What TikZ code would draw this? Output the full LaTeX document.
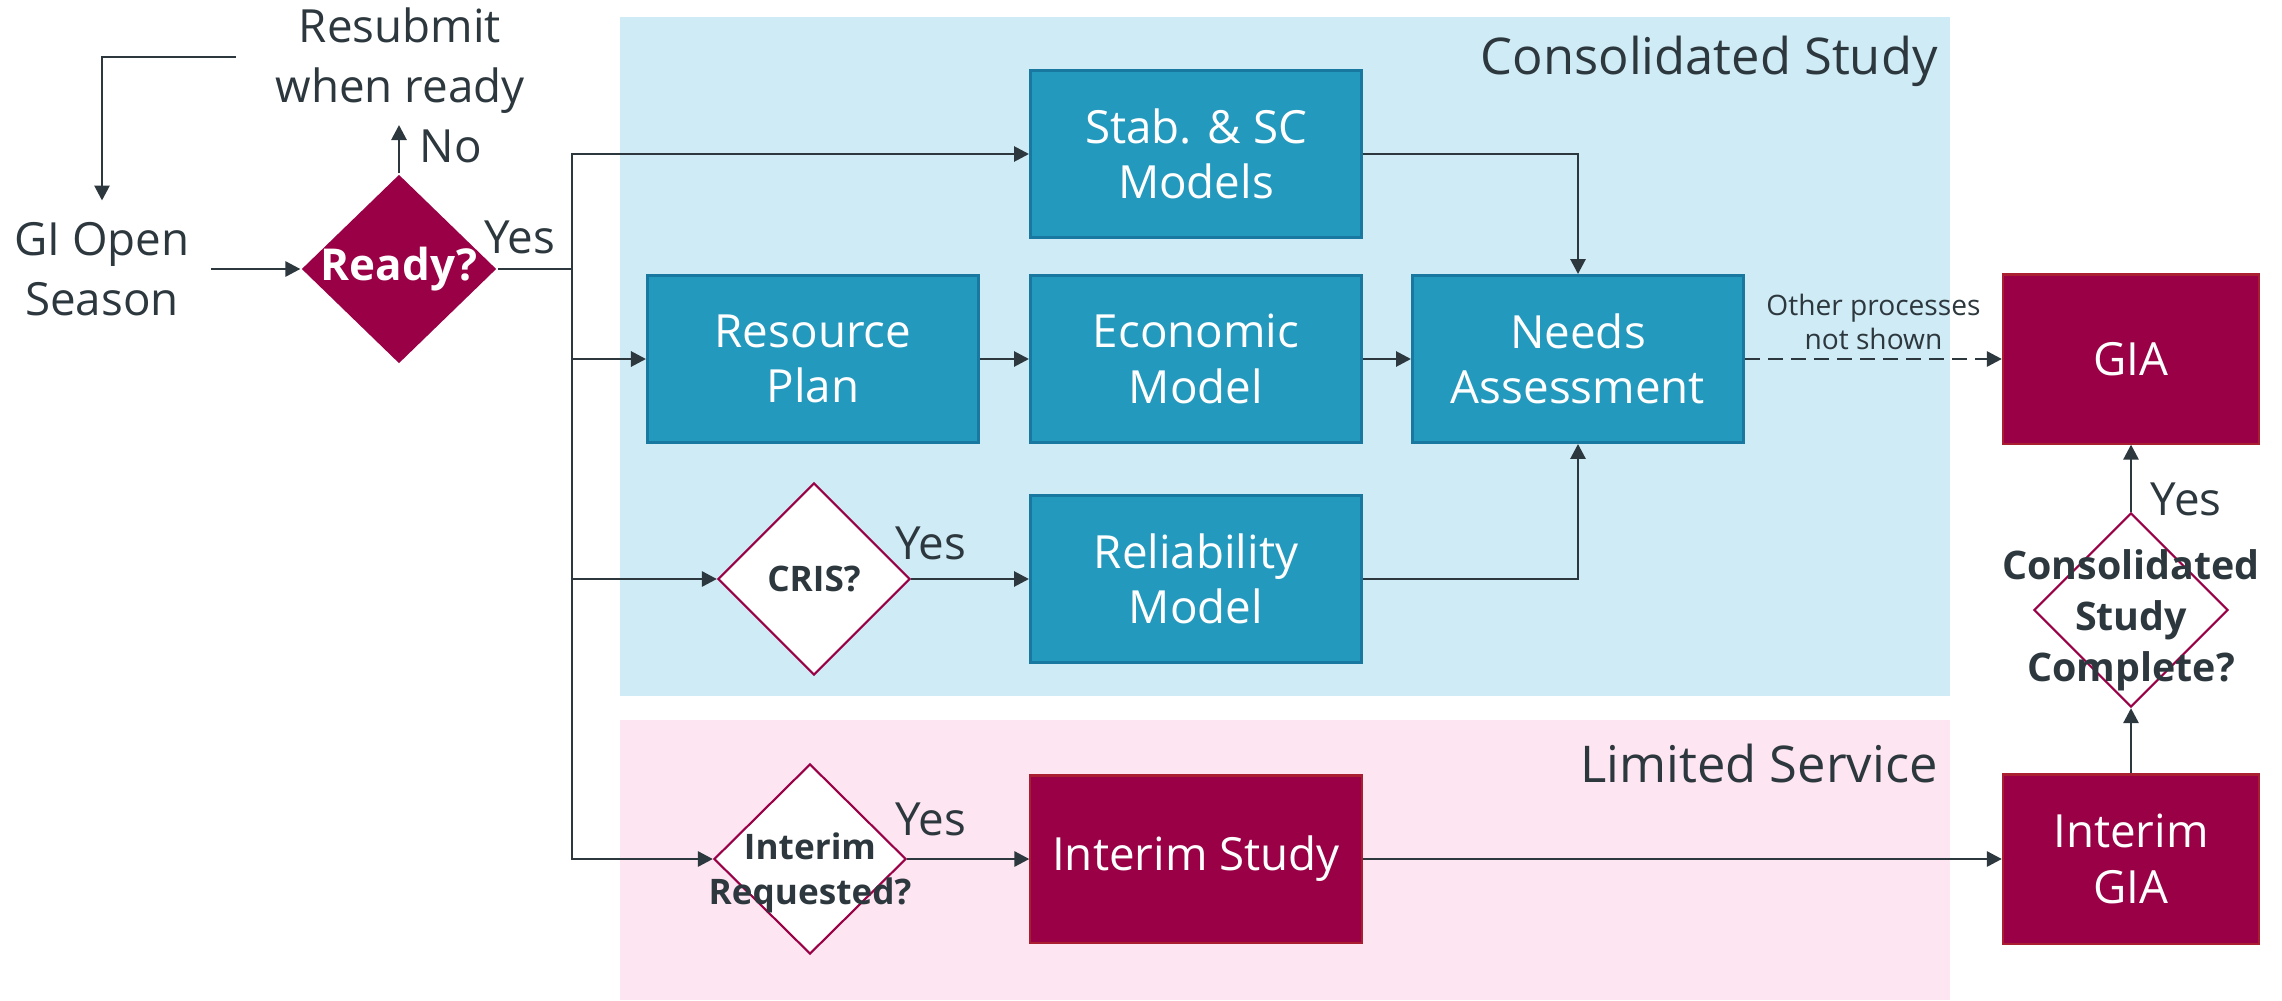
\documentclass[tikz,border=0pt]{standalone}
\usepackage{fontspec}
\setmainfont{Open Sans}
\usetikzlibrary{shapes.geometric}
\usetikzlibrary{arrows.meta}

\definecolor{tealbox}{RGB}{35,153,190}
\definecolor{tealedge}{RGB}{24,120,160}
\definecolor{maroon}{RGB}{153,0,70}
\definecolor{maroonedge}{RGB}{170,30,50}
\definecolor{laneblue}{RGB}{207,235,245}
\definecolor{lanepink}{RGB}{253,229,241}
\definecolor{ink}{RGB}{45,56,62}

\begin{document}
\begin{tikzpicture}[x=0.01cm, y=-0.01cm,
        proc/.style={rectangle, draw=tealedge, line width=0.8pt, fill=tealbox, text=white,
            minimum width=3.31cm, minimum height=1.67cm, align=center, font=\fontsize{13}{15.8}\selectfont},
        outcome/.style={rectangle, draw=maroonedge, line width=0.6pt, fill=maroon, text=white,
            minimum width=2.56cm, minimum height=1.69cm, align=center, font=\fontsize{13}{15.8}\selectfont},
        decide/.style={diamond, draw=maroon, line width=0.6pt, fill=white, inner sep=0pt,
            minimum width=1.92cm, minimum height=1.92cm},
        ask/.style={text=ink, align=center, font=\bfseries\fontsize{10}{12.8}\selectfont},
        freetext/.style={text=ink, align=center, font=\fontsize{13}{17}\selectfont},
        lanetitle/.style={text=ink, anchor=east, font=\fontsize{14.4}{18}\selectfont},
        aside/.style={text=ink, align=center, font=\fontsize{8}{9.5}\selectfont},
        flow/.style={draw=ink, line width=0.8pt, arrows=-{Triangle[length=1.5mm,width=1.5mm]}}]

            \useasboundingbox (0,0) rectangle (2282,1000);

            % lanes
            \fill[laneblue] (620,17) rectangle (1950,696);
            \fill[lanepink] (620,720) rectangle (1950,1000);
            \node (cstitle) [lanetitle] at (1950,61) {Consolidated Study};
            \node (lstitle) [lanetitle] at (1950,763) {Limited Service};

            \path   (102,269)  node (open) [freetext, inner sep=6pt] {GI Open\\Season}
                    (400,61)   node (resubmit) [freetext] {Resubmit\\when ready}
                    (399,269)  node (ready) [decide, fill=maroon, draw=none, minimum width=1.95cm, minimum height=1.89cm,
                                    label={[ask, text=white, font=\bfseries\fontsize{12.5}{15}\selectfont]center:Ready?}] {}
                    (1196,154) node (stab) [proc] {Stab. \& SC\\Models}
                    (813,359)  node (resource) [proc] {Resource\\Plan}
                    (1196,359) node (econ) [proc] {Economic\\Model}
                    (1578,359) node (needs) [proc] {Needs\\Assessment}
                    (814,579)  node (cris) [decide, label={[ask]center:CRIS?}] {}
                    (1196,579) node (reliab) [proc] {Reliability\\Model}
                    (810,859)  node (interimq) [decide, minimum width=1.92cm, minimum height=1.90cm,
                                    label={[ask, yshift=-4pt]center:{Interim\\Requested?}}] {}
                    (1196,859) node (interimstudy) [outcome, minimum width=3.31cm, minimum height=1.67cm] {Interim Study}
                    (2131,359) node (gia) [outcome] {GIA}
                    (2131,859) node (interimgia) [outcome] {Interim\\GIA}
                    (2131,610) node (complete) [decide, minimum width=1.94cm, minimum height=1.94cm,
                                    label={[ask, yshift=-3pt, font=\bfseries\fontsize{11.2}{14.5}\selectfont]center:{Consolidated\\Study\\Complete?}}] {};

            % answer labels
            \path   (451,146)  node (nolbl) [freetext] {No}
                    (520,237)  node (yesready) [freetext] {Yes}
                    (931,543)  node (yescris) [freetext] {Yes}
                    (931,819)  node (yesinterim) [freetext] {Yes}
                    (2186,499) node (yescomplete) [freetext] {Yes};

            \coordinate (trunk) at (572,269);
            \coordinate (back) at (236,57);
            \coordinate (noend) at (399,125);

            \draw[flow] (back) -| (open);
            \draw[flow] (open) -- (ready);
            \draw[flow] (ready) -- (noend);
            \draw[flow, arrows=-] (ready) -- (trunk);
            \draw[flow] (trunk) |- (stab);
            \draw[flow] (trunk) |- (resource);
            \draw[flow] (trunk) |- (cris);
            \draw[flow] (trunk) |- (interimq);
            \draw[flow] (resource) -- (econ);
            \draw[flow] (econ) -- (needs);
            \draw[flow] (stab) -| (needs);
            \draw[flow] (cris) -- (reliab);
            \draw[flow] (reliab) -| (needs);
            \draw[flow, dash pattern=on 1.5mm off 0.8mm] (needs) -- node (other) [aside, above=-1pt] {Other processes\\not shown} (gia);
            \draw[flow] (interimq) -- (interimstudy);
            \draw[flow] (interimstudy) -- (interimgia);
            \draw[flow] (interimgia) -- (complete);
            \draw[flow] (complete) -- (gia);

        \end{tikzpicture}
\end{document}
